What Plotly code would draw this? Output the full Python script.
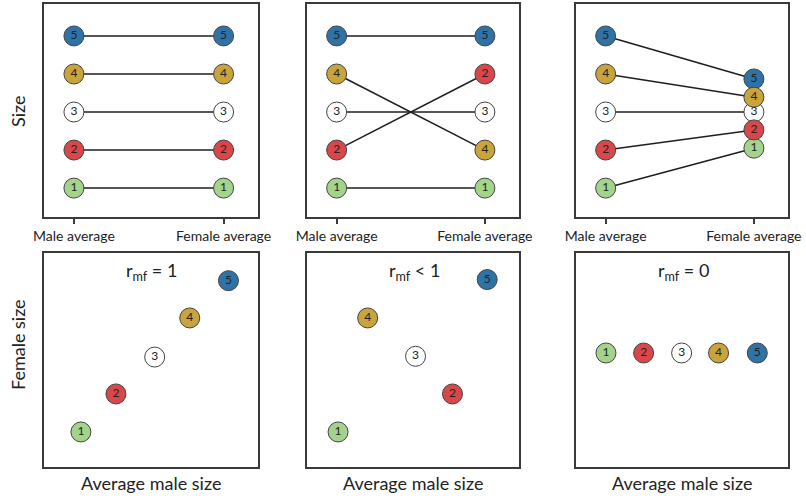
import plotly.graph_objects as go

FONT = "Lato"
ids = [1, 2, 3, 4, 5]
colors = {1: "#a4d48c", 2: "#d9474a", 3: "#ffffff", 4: "#c9a43c", 5: "#2f73a6"}
tick_labels = ["Male average", "Female average"]

# Top row: size of each id at male (x=0) and female (x=1) average
male_top = [1, 2, 3, 4, 5]
female_top1 = [1, 2, 3, 4, 5]
female_top2 = [1, 4, 3, 2, 5]
female_top3 = [2.05, 2.53, 3.0, 3.39, 3.87]

# Bottom row: (average male size, female size) for each id
male_bot1 = [1.0, 1.95, 3.0, 3.95, 5.0]
female_bot1 = [0.95, 1.98, 2.98, 4.04, 5.05]
male_bot2 = [0.85, 3.98, 2.97, 1.66, 4.93]
female_bot2 = [0.95, 1.98, 3.0, 4.04, 5.08]
male_bot3 = [0.82, 1.85, 2.89, 3.9, 4.96]
female_bot3 = [3.09, 3.09, 3.09, 3.09, 3.09]

annot_text = ["r<sub>mf</sub> = 1", "r<sub>mf</sub> &lt; 1", "r<sub>mf</sub> = 0"]

W, H = 806, 496
xdom = [(44, 258), (307, 519), (576, 788)]
ydom_top = (4, 217)
ydom_bot = (253, 467)

fig = go.Figure()

def px_dom(a, b, total):
    return [a / total, b / total]

def ydom(t, b):
    return [1 - b / H, 1 - t / H]

line_color = "#3a3a3a"
draw_order = [5, 3, 1, 4, 2]

def add_markers(xs, ys, xa, ya, order):
    idx = [ids.index(k) for k in order]
    fig.add_trace(go.Scatter(
        x=[xs[i] for i in idx], y=[ys[i] for i in idx],
        mode="markers+text", text=[str(ids[i]) for i in idx],
        textposition="middle center",
        textfont=dict(family=FONT, size=12, color="#222222"),
        marker=dict(size=20, color=[colors[ids[i]] for i in idx],
                    line=dict(width=1, color="#444444")),
        xaxis=xa, yaxis=ya, showlegend=False, hoverinfo="skip", cliponaxis=False))

females_top = [female_top1, female_top2, female_top3]
for p in range(3):
    n = p + 1
    xa, ya = f"x{n}", f"y{n}"
    for i in range(5):
        fig.add_trace(go.Scatter(x=[0, 1], y=[male_top[i], females_top[p][i]],
                                 mode="lines", line=dict(color="#1e1e1e", width=1.5),
                                 xaxis=xa, yaxis=ya, showlegend=False, hoverinfo="skip"))
    add_markers([0] * 5, male_top, xa, ya, ids)
    add_markers([1] * 5, females_top[p], xa, ya, draw_order if p == 2 else ids)

bots = [(male_bot1, female_bot1), (male_bot2, female_bot2), (male_bot3, female_bot3)]
for p in range(3):
    n = p + 4
    add_markers(bots[p][0], bots[p][1], f"x{n}", f"y{n}", ids)

layout = dict(width=W, height=H, margin=dict(l=0, r=0, t=0, b=0, autoexpand=False),
              paper_bgcolor="white", plot_bgcolor="white",
              font=dict(family=FONT, color="#222222"))

common = dict(showline=True, mirror=True, linewidth=2, linecolor=line_color,
              showgrid=False, zeroline=False, fixedrange=True, automargin=False)

for p in range(3):
    n = p + 1
    k = "" if n == 1 else str(n)
    layout[f"xaxis{k}"] = dict(domain=px_dom(*xdom[p], W), anchor=f"y{n}",
                               range=[-0.2, 1.23], tickvals=[0, 1], ticktext=tick_labels,
                               ticks="outside", ticklen=5, tickwidth=2, tickcolor=line_color,
                               tickfont=dict(family=FONT, size=14, color="#222222"), **common)
    layout[f"yaxis{k}"] = dict(domain=ydom(*ydom_top), anchor=f"x{n}",
                               range=[0.24, 5.84], showticklabels=False, ticks="", **common)

for p in range(3):
    n = p + 4
    layout[f"xaxis{n}"] = dict(domain=px_dom(*xdom[p], W), anchor=f"y{n}",
                               range=[0, 5.8], showticklabels=False, ticks="", **common)
    layout[f"yaxis{n}"] = dict(domain=ydom(*ydom_bot), anchor=f"x{n}",
                               range=[0, 5.8], showticklabels=False, ticks="", **common)

fig.update_layout(**layout)

title_font = dict(family=FONT, size=18, color="#222222")
# y titles
fig.add_annotation(x=18 / W, y=1 - 112 / H, xref="paper", yref="paper", text="Size",
                   textangle=-90, showarrow=False, font=title_font,
                   xanchor="center", yanchor="middle")
fig.add_annotation(x=18 / W, y=1 - 345 / H, xref="paper", yref="paper", text="Female size",
                   textangle=-90, showarrow=False, font=title_font,
                   xanchor="center", yanchor="middle")
# x titles bottom row
for p in range(3):
    cx = (xdom[p][0] + xdom[p][1]) / 2 / W
    fig.add_annotation(x=cx, y=1 - 483 / H, xref="paper", yref="paper", text="Average male size",
                       showarrow=False, font=title_font, xanchor="center", yanchor="middle")

annot_x = [2.92, 2.95, 2.93]
for p in range(3):
    n = p + 4
    fig.add_annotation(x=annot_x[p], y=5.3, xref=f"x{n}", yref=f"y{n}", text=annot_text[p],
                       showarrow=False, font=dict(family=FONT, size=18, color="#222222"),
                       xanchor="center", yanchor="middle")

fig.write_html("out.html", config={"displayModeBar": False},
               post_script="document.body.style.margin='0';")
